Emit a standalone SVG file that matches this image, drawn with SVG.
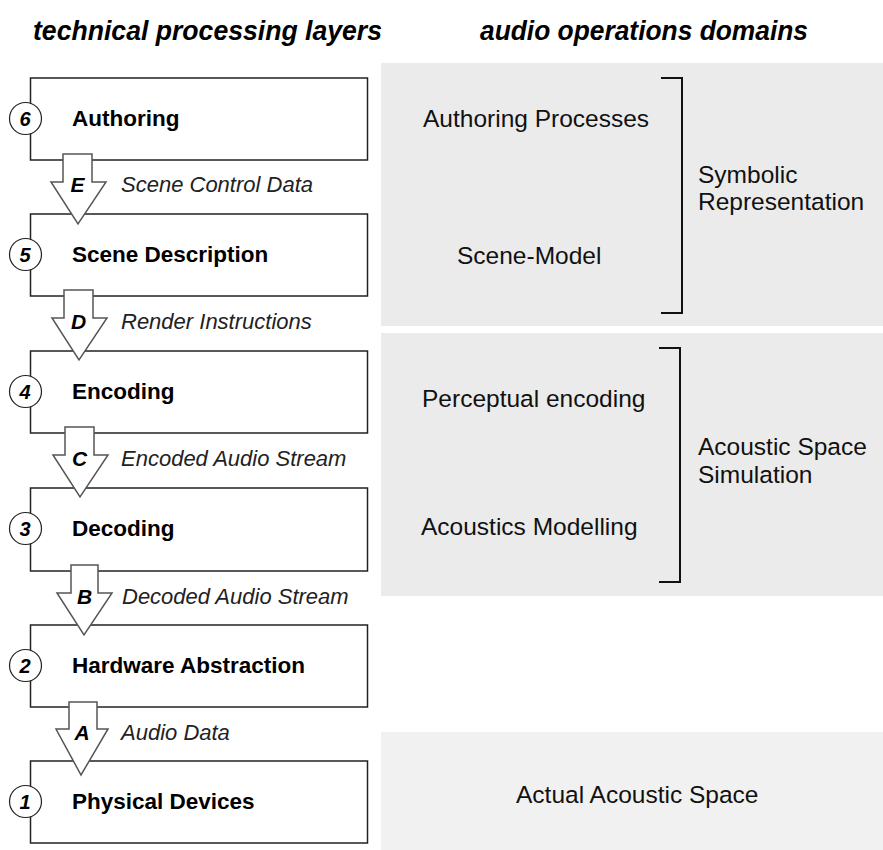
<svg xmlns="http://www.w3.org/2000/svg" width="883" height="850" viewBox="0 0 883 850">
  <style>
    .hdr { font-family: "Liberation Sans", Arial, sans-serif; font-weight: bold; font-style: italic; font-size: 27px; fill: #000; }
    .box { fill: #fff; stroke: #222; stroke-width: 1.5; }
    .num { fill: #fff; stroke: #222; stroke-width: 1.2; }
    .numtxt { font-family: "Liberation Sans", Arial, sans-serif; font-weight: bold; font-style: italic; font-size: 20px; text-anchor: middle; fill: #000; }
    .layer { font-family: "Liberation Sans", Arial, sans-serif; font-weight: bold; font-size: 22.5px; fill: #000; }
    .arrow { fill: #fff; stroke: #555; stroke-width: 1.5; stroke-linejoin: miter; }
    .letter { font-family: "Liberation Sans", Arial, sans-serif; font-weight: bold; font-style: italic; font-size: 21px; text-anchor: middle; fill: #000; }
    .flow { font-family: "Liberation Sans", Arial, sans-serif; font-style: italic; font-size: 22px; fill: #222; }
    .panel { fill: #ebebeb; }
    .panel-lt { fill: #f1f1f1; }
    .dom { font-family: "Liberation Sans", Arial, sans-serif; font-size: 24.5px; fill: #111; }
    .bracket { fill: none; stroke: #111; stroke-width: 2; }
  </style>

  <!-- column headings -->
  <text class="hdr" x="33" y="40" textLength="349" lengthAdjust="spacingAndGlyphs">technical processing layers</text>
  <text class="hdr" x="480" y="40" textLength="328" lengthAdjust="spacingAndGlyphs">audio operations domains</text>

  <!-- domain panels -->
  <g id="domains">
    <rect class="panel" x="381" y="63" width="502" height="263"/>
    <rect class="panel" x="381" y="333" width="502" height="263"/>
    <rect class="panel-lt" x="381" y="732" width="502" height="118"/>
    <text class="dom" x="423" y="127">Authoring Processes</text>
    <text class="dom" x="457" y="264">Scene-Model</text>
    <text class="dom" x="422" y="407">Perceptual encoding</text>
    <text class="dom" x="421" y="535">Acoustics Modelling</text>
    <text class="dom" x="516" y="803">Actual Acoustic Space</text>
    <path class="bracket" d="M661 78 H682 V313 H661"/>
    <text class="dom" x="698" y="183">Symbolic</text>
    <text class="dom" x="698" y="210">Representation</text>
    <path class="bracket" d="M659 348 H680 V582 H659"/>
    <text class="dom" x="698" y="455">Acoustic Space</text>
    <text class="dom" x="698" y="483">Simulation</text>
  </g>

  <!-- processing layers -->
  <g id="layer6">
    <rect class="box" x="30.5" y="78" width="337" height="82"/>
    <circle class="num" cx="25.5" cy="118.5" r="16"/>
    <text class="numtxt" x="25" y="125.5">6</text>
    <text class="layer" x="72" y="126">Authoring</text>
  </g>
  <g id="layer5">
    <rect class="box" x="30.5" y="214" width="337" height="82"/>
    <circle class="num" cx="25.5" cy="254.5" r="16"/>
    <text class="numtxt" x="25" y="261.5">5</text>
    <text class="layer" x="72" y="262">Scene Description</text>
  </g>
  <g id="layer4">
    <rect class="box" x="30.5" y="351" width="337" height="82"/>
    <circle class="num" cx="25.5" cy="391.5" r="16"/>
    <text class="numtxt" x="25" y="398.5">4</text>
    <text class="layer" x="72" y="399">Encoding</text>
  </g>
  <g id="layer3">
    <rect class="box" x="30.5" y="488" width="337" height="83"/>
    <circle class="num" cx="25.5" cy="528.5" r="16"/>
    <text class="numtxt" x="25" y="535.5">3</text>
    <text class="layer" x="72" y="536">Decoding</text>
  </g>
  <g id="layer2">
    <rect class="box" x="30.5" y="625" width="337" height="82"/>
    <circle class="num" cx="25.5" cy="665.5" r="16"/>
    <text class="numtxt" x="25" y="672.5">2</text>
    <text class="layer" x="72" y="673">Hardware Abstraction</text>
  </g>
  <g id="layer1">
    <rect class="box" x="30.5" y="761" width="337" height="82"/>
    <circle class="num" cx="25.5" cy="801.5" r="16"/>
    <text class="numtxt" x="25" y="808.5">1</text>
    <text class="layer" x="72" y="809">Physical Devices</text>
  </g>

  <!-- interfaces between layers -->
  <g id="connectors">
    <g id="flowE">
      <path class="arrow" d="M63 154 H92 V182 H106 L78 224 L51 182 H63 Z"/>
      <text class="letter" x="77.5" y="192">E</text>
      <text class="flow" x="121" y="192">Scene Control Data</text>
    </g>
    <g id="flowD">
      <path class="arrow" d="M64 290 H93 V318 H107 L79 360 L52 318 H64 Z"/>
      <text class="letter" x="78.5" y="329">D</text>
      <text class="flow" x="121" y="329">Render Instructions</text>
    </g>
    <g id="flowC">
      <path class="arrow" d="M65 427 H94 V455 H108 L80 497 L53 455 H65 Z"/>
      <text class="letter" x="79.5" y="466">C</text>
      <text class="flow" x="121" y="466">Encoded Audio Stream</text>
    </g>
    <g id="flowB">
      <path class="arrow" d="M71 565 H98 V593 H112 L84 635 L57 593 H71 Z"/>
      <text class="letter" x="84.5" y="604">B</text>
      <text class="flow" x="122" y="604">Decoded Audio Stream</text>
    </g>
    <g id="flowA">
      <path class="arrow" d="M69 702 H97 V729 H108 L81 775 L56 729 H69 Z"/>
      <text class="letter" x="82" y="740">A</text>
      <text class="flow" x="121" y="740">Audio Data</text>
    </g>
  </g>
</svg>
